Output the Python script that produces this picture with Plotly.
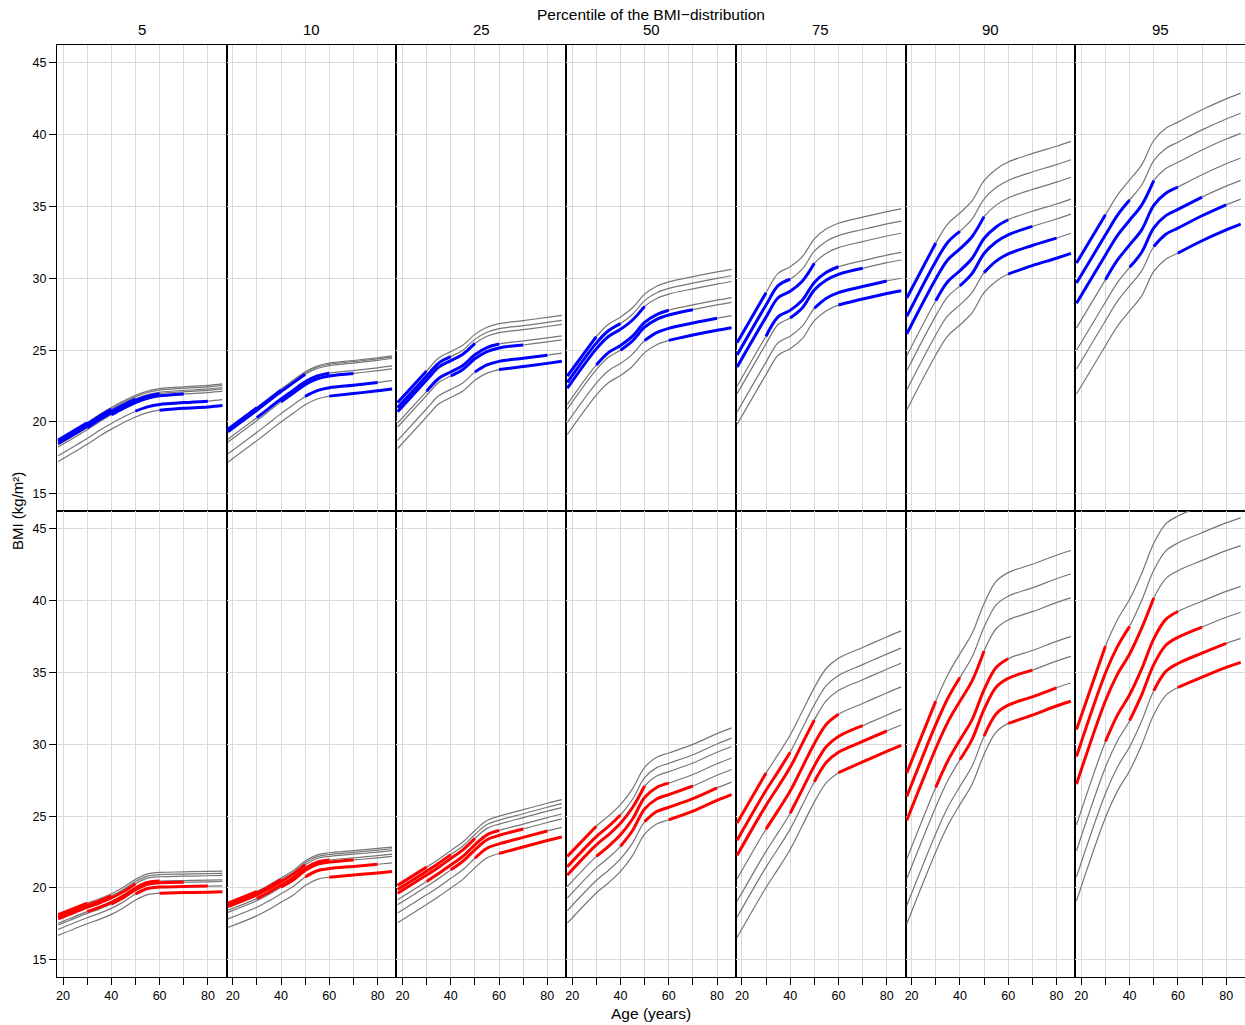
import plotly.graph_objects as go
from plotly.subplots import make_subplots

# BMI percentile curves by age, one curve per birth cohort (youngest cohort first).
percentiles = [5, 10, 25, 50, 75, 90, 95]
age_knots = [18, 30, 35, 40, 45, 50, 55, 60, 70, 80, 86]

# ages over which each cohort was actually observed (drawn in colour)
cohort_first_age = [18, 18, 18, 30, 40, 50, 60]
cohort_last_age = [30, 40, 50, 60, 70, 80, 86]

# age profile (BMI, kg/m2) of the youngest cohort, one row per percentile
men_profiles = [
    [18.75, 19.95, 20.50, 21.00, 21.45, 21.85, 22.15, 22.32, 22.45, 22.55, 22.65],  # 5
    [19.50, 21.00, 21.65, 22.30, 22.90, 23.50, 23.90, 24.10, 24.28, 24.47, 24.60],  # 10
    [21.35, 23.55, 24.45, 24.90, 25.35, 26.10, 26.60, 26.85, 27.06, 27.28, 27.42],  # 25
    [23.20, 25.94, 26.80, 27.30, 27.95, 28.90, 29.45, 29.75, 30.12, 30.45, 30.63],  # 50
    [25.52, 29.00, 30.35, 30.80, 31.50, 32.75, 33.45, 33.84, 34.26, 34.65, 34.84],  # 75
    [28.63, 32.46, 33.80, 34.55, 35.40, 36.80, 37.60, 38.10, 38.69, 39.20, 39.54],  # 90
    [31.07, 34.43, 35.80, 36.85, 37.90, 39.60, 40.45, 40.88, 41.74, 42.50, 42.90],  # 95
]
women_profiles = [
    [18.14, 18.95, 19.25, 19.60, 20.05, 20.60, 20.98, 21.08, 21.12, 21.15, 21.17],  # 5
    [18.95, 19.76, 20.20, 20.70, 21.20, 21.87, 22.30, 22.45, 22.60, 22.75, 22.85],  # 10
    [20.18, 21.45, 22.00, 22.60, 23.20, 24.00, 24.70, 25.00, 25.45, 25.90, 26.15],  # 25
    [22.20, 24.30, 25.00, 25.80, 26.90, 28.40, 29.10, 29.40, 30.00, 30.75, 31.15],  # 50
    [24.52, 28.00, 29.30, 30.65, 32.30, 33.95, 35.30, 36.00, 36.75, 37.48, 37.90],  # 75
    [28.01, 33.01, 34.85, 36.30, 37.70, 39.80, 41.35, 41.96, 42.54, 43.17, 43.50],  # 90
    [31.04, 36.85, 38.70, 40.10, 41.90, 44.00, 45.35, 45.90, 46.62, 47.30, 47.65],  # 95
]

# cohort shift (kg/m2) relative to the youngest cohort, one row per percentile
men_shifts = [
    [0, -0.10, -0.25, -0.35, -0.50, -1.10, -1.50],
    [0, -0.08, -0.18, -0.70, -0.90, -1.72, -2.30],
    [0, -0.35, -0.63, -1.42, -1.70, -2.63, -3.20],
    [0, -0.45, -0.85, -1.97, -2.30, -3.23, -4.07],
    [0, -0.86, -1.70, -3.03, -3.56, -4.83, -5.70],
    [0, -1.28, -2.50, -4.02, -5.07, -6.40, -7.80],
    [0, -1.40, -2.80, -4.52, -6.08, -7.38, -9.12],
]
women_shifts = [
    [0, -0.15, -0.30, -0.60, -0.72, -1.02, -1.44],
    [0, -0.12, -0.25, -0.50, -0.65, -1.10, -1.70],
    [0, -0.28, -0.55, -1.00, -1.34, -1.93, -2.60],
    [0, -0.72, -1.30, -2.10, -2.90, -3.78, -4.65],
    [0, -1.20, -2.25, -3.90, -5.45, -6.55, -7.97],
    [0, -1.64, -3.30, -6.00, -7.37, -9.23, -10.50],
    [0, -1.88, -3.81, -6.65, -8.45, -10.27, -11.94],
]

age_ticks = [20, 30, 40, 50, 60, 70, 80]
age_tick_text = ["20", "", "40", "", "60", "", "80"]
bmi_ticks = [15, 20, 25, 30, 35, 40, 45]

FONT = "Liberation Sans, Arial, Helvetica, sans-serif"

fig = make_subplots(rows=2, cols=7, horizontal_spacing=0, vertical_spacing=0)

rows = [(men_profiles, men_shifts, "#0000ff"), (women_profiles, women_shifts, "#ff0000")]
for r, (profiles, shifts, colour) in enumerate(rows, start=1):
    for c in range(len(percentiles)):
        profile = profiles[c]
        shift = shifts[c]
        # full modelled curve for every cohort
        for k in range(len(shift)):
            fig.add_trace(
                go.Scatter(
                    x=age_knots,
                    y=[v + shift[k] for v in profile],
                    mode="lines",
                    line=dict(color="#767676", width=1.2, shape="spline"),
                    hoverinfo="skip",
                    showlegend=False,
                ),
                row=r, col=c + 1,
            )
        # observed part of each cohort
        for k in range(len(shift)):
            idx = [i for i, a in enumerate(age_knots)
                   if cohort_first_age[k] <= a <= cohort_last_age[k]]
            fig.add_trace(
                go.Scatter(
                    x=[age_knots[i] for i in idx],
                    y=[profile[i] + shift[k] for i in idx],
                    mode="lines",
                    line=dict(color=colour, width=3, shape="spline"),
                    hoverinfo="skip",
                    showlegend=False,
                ),
                row=r, col=c + 1,
            )

fig.update_xaxes(
    range=[17.5, 87.8], tickvals=age_ticks, ticktext=age_tick_text,
    showgrid=True, gridcolor="#dadada", gridwidth=1, zeroline=False,
    showline=True, linecolor="black", linewidth=1, mirror=True,
    ticks="", showticklabels=False, fixedrange=True,
)
fig.update_xaxes(
    row=2, ticks="outside", ticklen=7, tickwidth=1, tickcolor="black",
    showticklabels=True, tickfont=dict(family=FONT, size=12.5, color="black"),
)
fig.update_yaxes(
    range=[13.8, 46.25], tickvals=bmi_ticks,
    showgrid=True, gridcolor="#dadada", gridwidth=1, zeroline=False,
    showline=True, linecolor="black", linewidth=1, mirror=True,
    ticks="", showticklabels=False, fixedrange=True,
)
fig.update_yaxes(
    col=1, ticks="outside", ticklen=7, tickwidth=1, tickcolor="black",
    showticklabels=True, tickfont=dict(family=FONT, size=12.5, color="black"),
)

W, H = 1245, 1025
ML, MR, MT, MB = 57, 0, 45, 48
plot_w, plot_h = W - ML - MR, H - MT - MB


def px_x(x):
    return (x - ML) / plot_w


def px_y(y):
    return (H - MB - y) / plot_h


annotations = []
for c, p in enumerate(percentiles):
    annotations.append(dict(
        text=str(p), x=(c + 0.5) / 7, y=px_y(30), xref="paper", yref="paper",
        xanchor="center", yanchor="middle", showarrow=False,
        font=dict(family=FONT, size=15, color="black"),
    ))
annotations.append(dict(
    text="Percentile of the BMI\u2212distribution", x=0.5, y=px_y(15),
    xref="paper", yref="paper", xanchor="center", yanchor="middle",
    showarrow=False, font=dict(family=FONT, size=15.5, color="black"),
))
annotations.append(dict(
    text="Age (years)", x=0.5, y=px_y(1013), xref="paper", yref="paper",
    xanchor="center", yanchor="middle", showarrow=False,
    font=dict(family=FONT, size=15.5, color="black"),
))
annotations.append(dict(
    text="BMI (kg/m\u00b2)", x=px_x(17), y=px_y(511), xref="paper", yref="paper",
    xanchor="center", yanchor="middle", textangle=-90, showarrow=False,
    font=dict(family=FONT, size=15, color="black"),
))

fig.update_layout(
    width=W, height=H,
    margin=dict(l=ML, r=MR, t=MT, b=MB),
    paper_bgcolor="white", plot_bgcolor="white",
    font=dict(family=FONT, color="black"),
    showlegend=False,
    annotations=annotations,
)

fig.write_html("out.html")
